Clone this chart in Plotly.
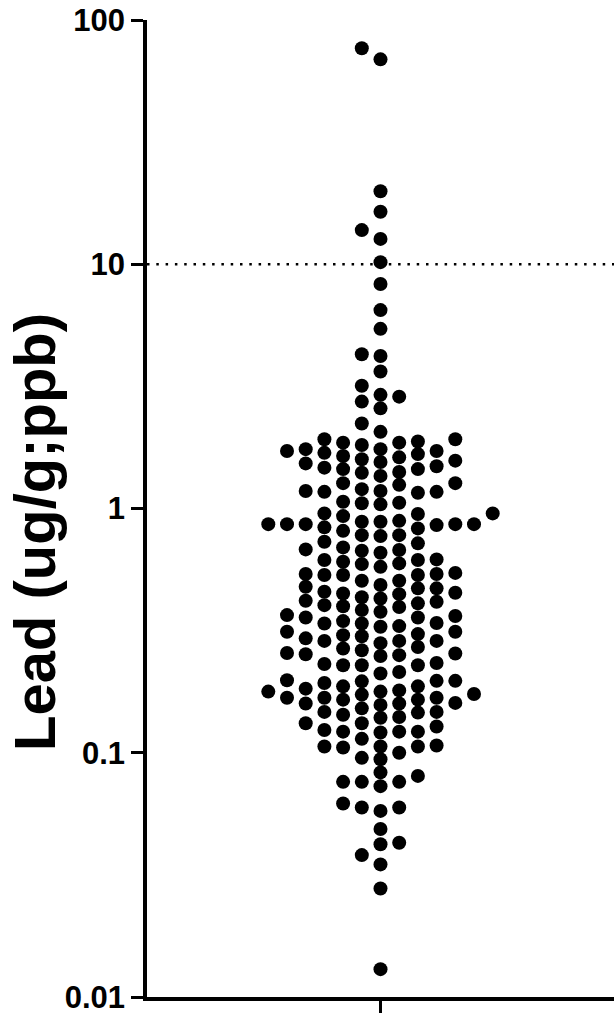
import numpy as np
import plotly.graph_objects as go

# Lead concentrations (ug/g; ppb)
lead_values = [
    76.6, 69.0, 19.9, 16.4, 13.8, 12.7, 10.2, 8.30, 6.49, 5.44, 4.28, 4.21, 3.64,
    3.18, 2.92, 2.87, 2.74, 2.57, 2.23, 2.06,
    1.75, 1.53, 1.55, 1.20, 1.82, 1.59, 1.40, 1.18, 1.75, 1.47, 1.25,
    1.86, 1.62, 1.41, 1.18, 1.055, 1.86, 1.64, 1.45, 1.27, 1.065,
    1.72, 1.49, 1.17, 1.72, 1.36, 1.17, 1.92, 1.67, 1.45, 1.16,
    1.88, 1.57, 1.27, 1.05, 1.92, 1.69, 1.04,
    0.863, 0.855, 0.863, 0.680, 0.863, 0.771, 0.671, 0.577,
    0.955, 0.778, 0.693, 0.615, 0.545, 0.882, 0.778, 0.615, 0.539,
    0.863, 0.720, 0.619, 0.539, 0.949, 0.829, 0.659, 0.596, 0.534,
    0.955, 0.837, 0.676, 0.592, 0.534, 0.931, 0.810, 0.605, 0.534,
    0.890, 0.731, 0.882, 0.863,
    0.338, 0.449, 0.398, 0.338, 0.287, 0.478, 0.409, 0.363, 0.306, 0.271,
    0.486, 0.433, 0.378, 0.328, 0.287, 0.471, 0.419, 0.366, 0.313, 0.281,
    0.452, 0.402, 0.358, 0.313, 0.267, 0.506, 0.446, 0.395, 0.346, 0.300, 0.263,
    0.506, 0.428, 0.330, 0.294, 0.255, 0.471, 0.415, 0.358, 0.287, 0.251,
    0.456, 0.384, 0.340, 0.303, 0.256,
    0.196, 0.174, 0.253, 0.198, 0.173, 0.152, 0.132,
    0.228, 0.178, 0.159, 0.139, 0.121, 0.106,
    0.249, 0.211, 0.187, 0.165, 0.143, 0.122, 0.105, 0.0760, 0.0597,
    0.228, 0.178, 0.159, 0.128, 0.114, 0.0953, 0.0804, 0.0597, 0.0422,
    0.233, 0.197, 0.157, 0.132, 0.107, 0.0941, 0.0831, 0.0730, 0.0578, 0.0487,
    0.0428, 0.0349, 0.0278, 0.0130,
    0.231, 0.187, 0.168, 0.147, 0.122, 0.100, 0.0760, 0.0620, 0.0381,
    0.228, 0.193, 0.168, 0.146, 0.122, 0.106, 0.0760,
    0.214, 0.183, 0.165, 0.147, 0.124, 0.106,
    0.180, 0.160, 0.140, 0.197, 0.168,
]
threshold = 10
y_tick_values = [0.01, 0.1, 1, 10, 100]
y_tick_labels = ["0.01", "0.1", "1", "10", "100"]
y_title = "Lead (ug/g;ppb)"

# ---- layout geometry ----
W, H = 614, 1015
ML, MR, MT, MB = 147, 0, 20, 18
plot_w = W - ML - MR
plot_h = H - MT - MB
decades = 4.0
px_per_decade = plot_h / decades
half_w = plot_w / 2.0

# ---- swarm offsets (computed) ----
dot = 14
col_step = 18.7  # x axis units == pixels
min_sep = 12.5 / px_per_decade
logs = np.log10(np.array(lead_values))
order = np.argsort(logs)
columns = {}
xoff = np.zeros(len(lead_values))
cand = [0]
for k in range(1, 12):
    cand += [-k, k]
for i in order:
    for c in cand:
        ys = columns.setdefault(c, [])
        if all(abs(logs[i] - v) >= min_sep for v in ys):
            ys.append(logs[i])
            xoff[i] = c * col_step
            break

fig = go.Figure()
fig.add_trace(go.Scatter(
    x=[-half_w, half_w], y=[threshold, threshold], mode="lines",
    line=dict(color="black", width=2.5, dash="2.5px,6.8px"),
    hoverinfo="skip", showlegend=False))
fig.add_trace(go.Scatter(
    x=xoff, y=lead_values, mode="markers",
    marker=dict(color="black", size=dot, line=dict(width=0)),
    showlegend=False))

fig.update_layout(
    width=W, height=H,
    margin=dict(l=ML, r=MR, t=MT, b=MB, pad=0),
    paper_bgcolor="white", plot_bgcolor="white",
    font=dict(family="Liberation Sans, Arial, sans-serif", color="black"),
)
fig.update_xaxes(
    range=[-half_w, half_w], showgrid=False, zeroline=False,
    showline=True, linecolor="black", linewidth=3.5,
    ticks="outside", ticklen=12, tickwidth=3, tickcolor="black",
    tickvals=[0], ticktext=[""], fixedrange=True,
)
fig.update_yaxes(
    type="log", range=[-2, 2], showgrid=False, zeroline=False,
    showline=True, linecolor="black", linewidth=3.5,
    ticks="outside", ticklen=12, tickwidth=3, tickcolor="black",
    tickvals=y_tick_values, ticktext=y_tick_labels,
    tickfont=dict(size=31, weight="bold", family="Liberation Sans, Arial, sans-serif"),
    ticklabelstandoff=0,
)
fig.add_annotation(
    text=y_title, textangle=-90, xref="paper", yref="paper",
    x=(34 - ML) / plot_w, y=(H - MB - 532) / plot_h,
    xanchor="center", yanchor="middle", showarrow=False,
    font=dict(size=58, weight="bold", family="Liberation Sans, Arial, sans-serif"),
)
fig.write_html("out.html")
